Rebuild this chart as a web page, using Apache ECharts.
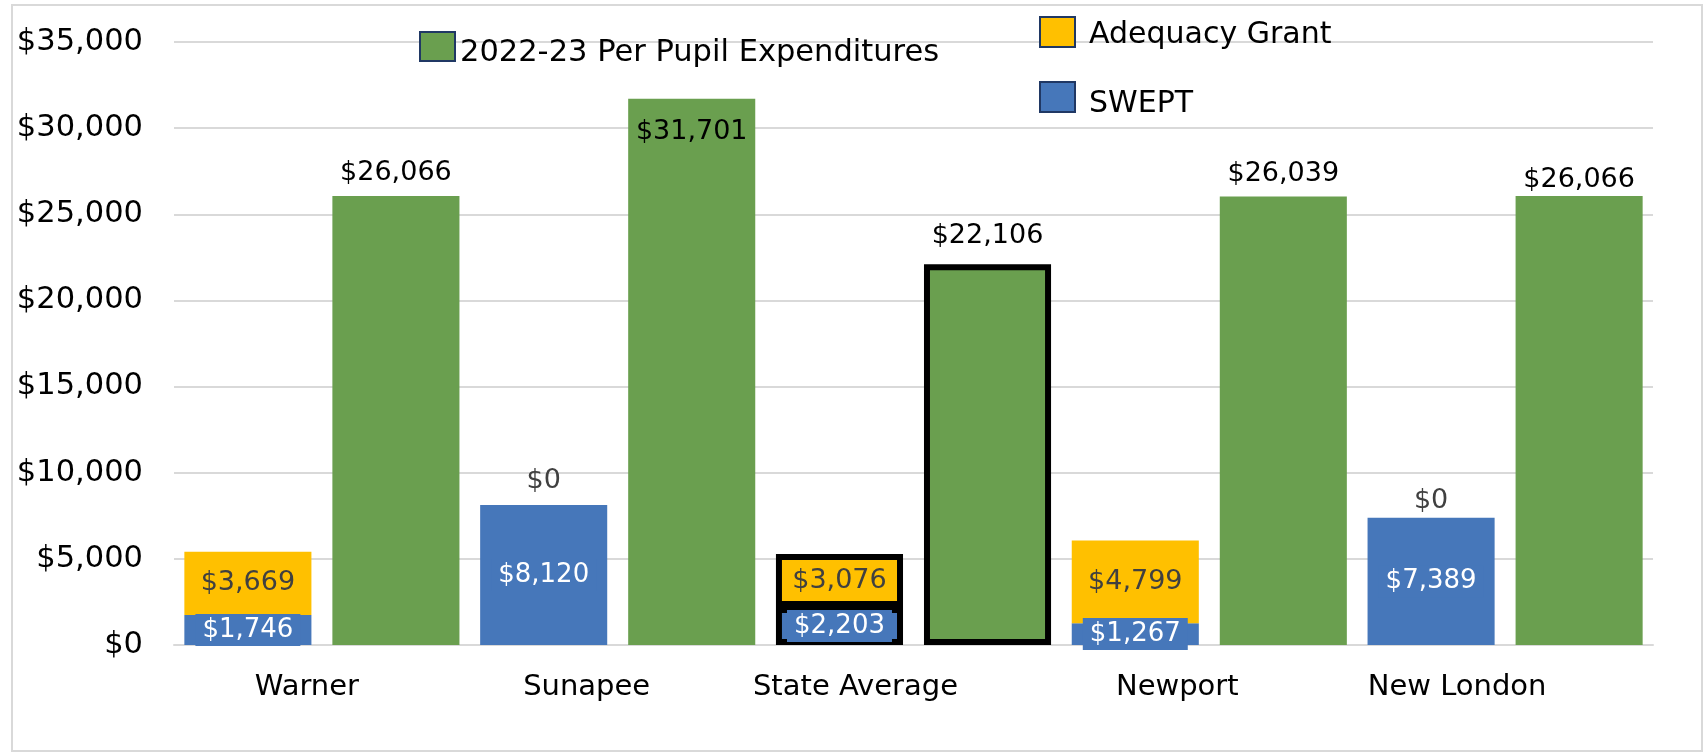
<!DOCTYPE html>
<html>
<head>
<meta charset="utf-8">
<script src="https://cdn.jsdelivr.net/npm/echarts@6/dist/echarts.min.js"></script>
<style>
  html, body { margin: 0; padding: 0; background: #fff; }
  #chart { width: 1708px; height: 754px; }
  #frame { position: absolute; left: 11px; top: 4px; width: 1692px; height: 748px; border: 2px solid #d9d9d9; box-sizing: border-box; pointer-events: none; }
</style>
</head>
<body>
<div id="chart"></div>
<div id="frame"></div>
<script>
const categories = ["Warner", "Sunapee", "State Average", "Newport", "New London"];
const sweptValues = [1746, 8120, 2203, 1267, 7389];
const adequacyValues = [3669, 0, 3076, 4799, 0];
const expenditureValues = [26066, 31701, 22106, 26039, 26066];
const yTicks = [0, 5000, 10000, 15000, 20000, 25000, 30000, 35000];

const FONT = "DejaVu Sans";
const HIGHLIGHT = 2; // State Average gets the black outline
const labelShift = [15, 31, 58, 32, 48];

const money = (v) => "$" + Number(v).toLocaleString("en-US");
const outline = { borderColor: "#000", borderWidth: 6 };

const chart = echarts.init(document.getElementById("chart"));

const sweptData = sweptValues.map((v, i) => ({
  value: v,
  itemStyle: i === HIGHLIGHT ? outline : {},
}));

const adequacyData = adequacyValues.map((v, i) => {
  const item = { value: v, itemStyle: i === HIGHLIGHT ? outline : {} };
  if (v === 0) {
    item.label = {
      position: "top",
      distance: i === 1 ? 11 : 3,
      color: "#404040",
    };
  }
  return item;
});

const expenditureData = expenditureValues.map((v, i) => {
  const item = { value: v, itemStyle: i === HIGHLIGHT ? outline : {} };
  if (i === 1) item.label = { position: "insideTop", distance: 20 };
  if (i === 2) item.label = { distance: 15 };
  if (i === 4) item.label = { distance: 2 };
  return item;
});

const rich = {};
labelShift.forEach((s, i) => {
  rich["c" + i] = { fontSize: 29, fontFamily: FONT, color: "#000", padding: [0, s * 2, 0, 0] };
});

const legendBase = {
  padding: 0,
  icon: "rect",
  itemWidth: 35,
  itemStyle: { borderColor: "#203864", borderWidth: 2 },
};

const option = {
  animation: false,
  backgroundColor: "#fff",
  textStyle: { fontFamily: FONT },
  grid: { left: 174, right: 55, top: 42, bottom: 109 },
  legend: [
    {
      ...legendBase,
      data: ["2022-23 Per Pupil Expenditures"],
      left: 419,
      top: 31,
      itemHeight: 29,
      formatter: "{t|{name}}",
      textStyle: {
        rich: { t: { fontSize: 30.5, color: "#000", fontFamily: FONT, padding: [14, 0, 0, 0] } },
      },
    },
    {
      ...legendBase,
      data: ["Adequacy Grant", "SWEPT"],
      orient: "vertical",
      left: 1039,
      top: 16,
      itemGap: 31,
      itemHeight: 30,
      formatter: (name) => (name === "SWEPT" ? "{s|" + name + "}" : "{a|" + name + "}"),
      textStyle: {
        rich: {
          a: { fontSize: 30, color: "#000", fontFamily: FONT, padding: [6, 0, 0, 9] },
          s: { fontSize: 30, color: "#000", fontFamily: FONT, padding: [15, 0, 0, 9] },
        },
      },
    },
  ],
  xAxis: {
    type: "category",
    data: categories,
    axisTick: { show: false },
    axisLine: { lineStyle: { color: "#d9d9d9", width: 2 } },
    axisLabel: {
      margin: 28,
      formatter: (v, i) => "{c" + i + "|" + v + "}",
      rich: rich,
    },
  },
  yAxis: {
    type: "value",
    min: yTicks[0],
    max: yTicks[yTicks.length - 1],
    interval: 5000,
    axisLabel: {
      fontSize: 30.5,
      color: "#000",
      margin: 31,
      fontFamily: FONT,
      formatter: money,
    },
    splitLine: { lineStyle: { color: "#d9d9d9", width: 2 } },
  },
  series: [
    {
      name: "SWEPT",
      type: "bar",
      stack: "funding",
      itemStyle: { color: "#4677ba" },
      label: {
        show: true,
        position: "inside",
        color: "#fff",
        fontSize: 26,
        fontFamily: FONT,
        backgroundColor: "#4677ba",
        padding: [3, 7],
        formatter: (p) => money(p.value),
      },
      data: sweptData,
    },
    {
      name: "Adequacy Grant",
      type: "bar",
      stack: "funding",
      itemStyle: { color: "#ffc000" },
      label: {
        show: true,
        position: "inside",
        color: "#404040",
        fontSize: 27,
        fontFamily: FONT,
        formatter: (p) => money(p.value),
      },
      data: adequacyData,
    },
    {
      name: "2022-23 Per Pupil Expenditures",
      type: "bar",
      barCategoryGap: "7%",
      barGap: "16.5%",
      itemStyle: { color: "#6a9f4f" },
      label: {
        show: true,
        position: "top",
        distance: 9,
        color: "#000",
        fontSize: 27,
        fontFamily: FONT,
        formatter: (p) => money(p.value),
      },
      data: expenditureData,
    },
  ],
};

chart.setOption(option);
</script>
</body>
</html>
